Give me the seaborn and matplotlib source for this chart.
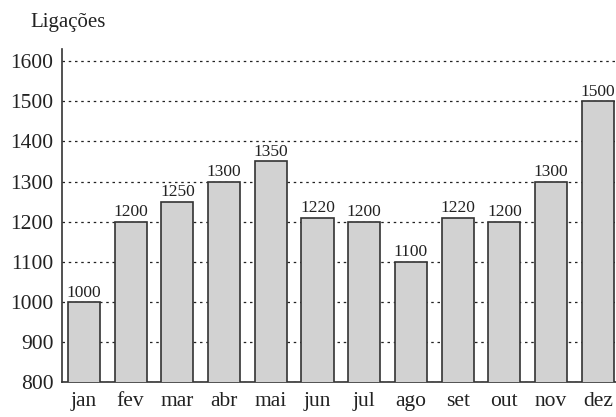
import matplotlib
matplotlib.use('Agg')
import matplotlib.pyplot as plt
import seaborn as sns
import numpy as np

# monthly data
meses = ['jan', 'fev', 'mar', 'abr', 'mai', 'jun', 'jul', 'ago', 'set', 'out', 'nov', 'dez']
ligacoes = [1000, 1200, 1250, 1300, 1350, 1210, 1200, 1100, 1210, 1200, 1300, 1500]
rotulos = ['1000', '1200', '1250', '1300', '1350', '1220', '1200', '1100', '1220', '1200', '1300', '1500']
yticks = [800, 900, 1000, 1100, 1200, 1300, 1400, 1500, 1600]

sns.set_style('white')
plt.rcParams['font.family'] = ['Liberation Serif', 'DejaVu Serif']

fig = plt.figure(figsize=(6.16, 4.17), dpi=100)
ax = fig.add_axes([0.1006, 0.084, 0.8994, 0.798])

sns.barplot(x=meses, y=ligacoes, color='#d2d2d2', saturation=1, width=0.69,
            edgecolor='#333333', linewidth=1.2, ax=ax, zorder=3)

# value labels above bars
for i, (v, r) in enumerate(zip(ligacoes, rotulos)):
    ax.text(i, v + 3, r, ha='center', va='bottom', fontsize=12.5, color='#222222', zorder=4)

ax.set_ylim(800, 1630)
ax.set_xlim(-0.47, 11.39)
ax.set_yticks(yticks)
ax.set_yticklabels([str(t) for t in yticks])
ax.yaxis.grid(True, linestyle=(0, (2, 3)), color='#222222', linewidth=0.9, zorder=0)
ax.set_axisbelow(True)

# month ticks between bars
ax.set_xticks(range(len(meses)))
ax.set_xticklabels(meses)
ax.set_xticks(np.arange(0.5, len(meses) - 0.5, 1), minor=True)
ax.tick_params(axis='x', which='major', length=0, labelsize=15.5, pad=7, colors='#222222')
ax.tick_params(axis='x', which='minor', length=4, width=1, direction='out', color='#333333')
ax.tick_params(axis='y', length=6, width=1, direction='inout', labelsize=15.5, pad=3, colors='#222222')

for s in ['top', 'right']:
    ax.spines[s].set_visible(False)
for s in ['left', 'bottom']:
    ax.spines[s].set_color('#333333')
    ax.spines[s].set_linewidth(1.2)

ax.set_xlabel('')
ax.set_ylabel('')
fig.text(0.049, 0.945, 'Ligações', fontsize=15, color='#222222', va='center')

plt.savefig('out.png', dpi=100)
